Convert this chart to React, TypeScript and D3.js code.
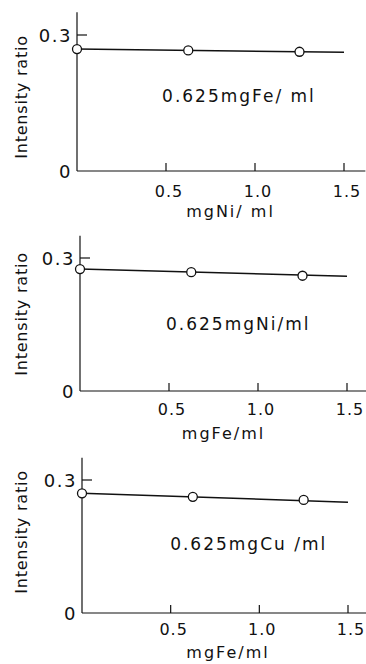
import React from 'react';
import * as d3 from 'd3';

// concentrations added (mg/ml)
const addedConc = [0, 0.625, 1.25];

// intensity ratios
const feNiRatio = [0.269, 0.266, 0.263];
const niFeRatio = [0.275, 0.268, 0.26];
const cuFeRatio = [0.27, 0.262, 0.255];

// fitted lines, [x, y] at both ends
const feNiLine = [[0, 0.269], [1.5, 0.262]];
const niFeLine = [[0, 0.275], [1.5, 0.259]];
const cuFeLine = [[0, 0.27], [1.5, 0.25]];

const xTicks = [0.5, 1.0, 1.5];
const xTickLabels = ['0.5', '1.0', '1.5'];
const yTicks = [0, 0.3];
const yTickLabels = ['0', '0.3'];

const panels = [
    { values: feNiRatio, line: feNiLine, note: '0.625mgFe/ ml', noteAt: [0.478, 0.152], xTitle: 'mgNi/ ml',
      x0: 77, x1: 344, y0: 171, y1: 35, titleDx: 20, titleDy: 46, tickDy: 26, yTitleY: 97 },
    { values: niFeRatio, line: niFeLine, note: '0.625mgNi/ml', noteAt: [0.483, 0.138], xTitle: 'mgFe/ml',
      x0: 80, x1: 347, y0: 391, y1: 258, titleDx: 10, titleDy: 48, tickDy: 24, yTitleY: 314 },
    { values: cuFeRatio, line: cuFeLine, note: '0.625mgCu /ml', noteAt: [0.497, 0.142], xTitle: 'mgFe/ml',
      x0: 82, x1: 348, y0: 613, y1: 480, titleDx: 13, titleDy: 45, tickDy: 22, yTitleY: 532 },
];

const font = 'DejaVu Sans, sans-serif';

function Panel({ p }) {
    const x = d3.scaleLinear().domain([0, 1.5]).range([p.x0, p.x1]);
    const y = d3.scaleLinear().domain([0, 0.3]).range([p.y0, p.y1]);
    const line = d3.line().x(d => x(d[0])).y(d => y(d[1]));

    return (
        <g>
            {/* axes */}
            <line x1={x(0)} x2={x(1.62)} y1={y(0)} y2={y(0)} stroke="#111" strokeWidth={1.2} />
            <line x1={x(0)} x2={x(0)} y1={y(0)} y2={y(0.35)} stroke="#111" strokeWidth={1.2} />
            {xTicks.map((t, i) => (
                <g key={t}>
                    <line x1={x(t)} x2={x(t)} y1={y(0)} y2={y(0) - 8} stroke="#111" strokeWidth={1.2} />
                    <text x={x(t) + 3} y={y(0) + p.tickDy} textAnchor="middle" fontSize={16} letterSpacing={1}>{xTickLabels[i]}</text>
                </g>
            ))}
            {yTicks.map((t, i) => (
                <g key={t}>
                    {t > 0 && <line x1={x(0)} x2={x(0) + 10} y1={y(t)} y2={y(t)} stroke="#111" strokeWidth={1.2} />}
                    <text x={x(0) - 5} y={y(t) + 7} textAnchor="end" fontSize={18} letterSpacing={1.5}>{yTickLabels[i]}</text>
                </g>
            ))}
            <text x={x(0.75) + p.titleDx} y={y(0) + p.titleDy} textAnchor="middle" fontSize={16} letterSpacing={2}>{p.xTitle}</text>
            <text transform={`translate(27,${p.yTitleY}) rotate(-90)`} textAnchor="middle" fontSize={16} letterSpacing={0.8}>Intensity ratio</text>

            {/* fitted line and points */}
            <path d={line(p.line)} fill="none" stroke="#111" strokeWidth={1.5} />
            {addedConc.map((c, i) => (
                <circle key={c} cx={x(c)} cy={y(p.values[i])} r={4.5} fill="#fff" stroke="#111" strokeWidth={1.3} />
            ))}
            <text x={x(p.noteAt[0])} y={y(p.noteAt[1])} fontSize={17} letterSpacing={2}>{p.note}</text>
        </g>
    );
}

export default function App() {
    return (
        <svg width={366} height={664} style={{ position: 'absolute', left: 0, top: 0, background: '#fff' }}
            fontFamily={font} fill="#111">
            {panels.map((p, i) => <Panel key={i} p={p} />)}
        </svg>
    );
}
